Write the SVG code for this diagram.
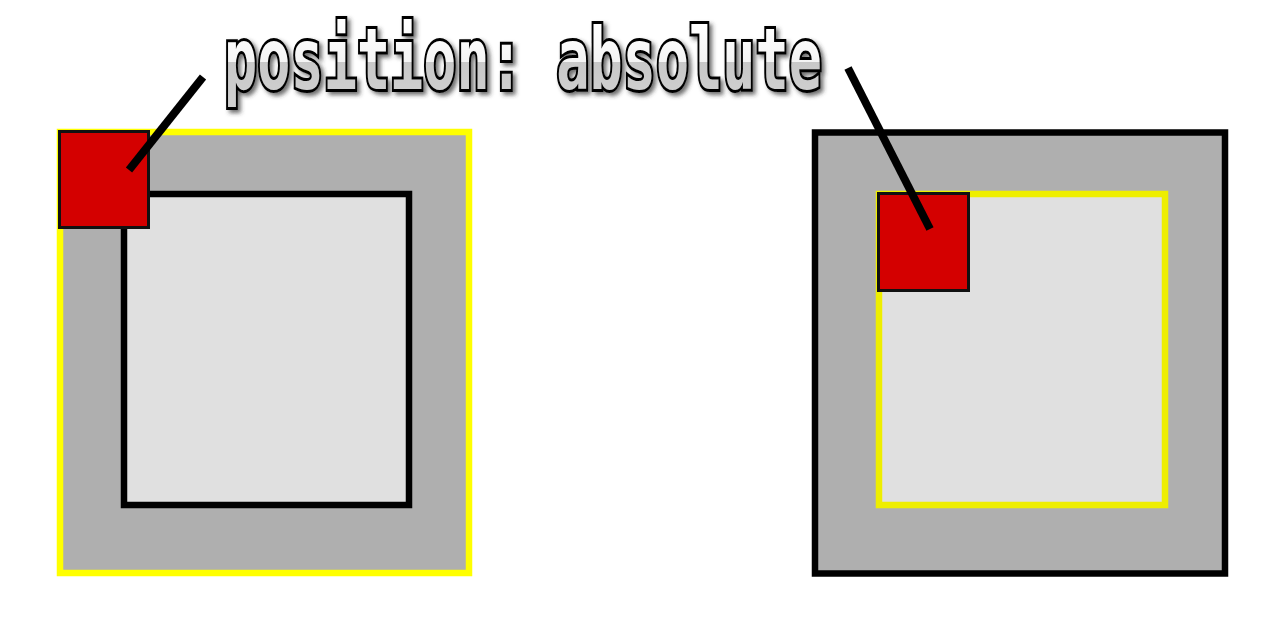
<svg xmlns="http://www.w3.org/2000/svg" width="1280" height="640" viewBox="0 0 1280 640">
  <defs>
    <linearGradient id="txtGrad" gradientUnits="userSpaceOnUse" x1="0" y1="24" x2="0" y2="100">
      <stop offset="0" stop-color="#ffffff"/>
      <stop offset="0.5" stop-color="#f4f4f4"/>
      <stop offset="0.5" stop-color="#c8c8c8"/>
      <stop offset="1" stop-color="#d0d0d0"/>
    </linearGradient>
    <filter id="shadow" x="-5%" y="-30%" width="110%" height="160%">
      <feDropShadow dx="3" dy="3" stdDeviation="2" flood-color="#333" flood-opacity="0.7"/>
    </filter>
  </defs>
  <style>
    .outer { fill: #afafaf; stroke-width: 6.5; }
    .inner { fill: #e0e0e0; stroke-width: 6.5; }
    .red { fill: #d40000; stroke: #111; stroke-width: 3; }
    .pointer { stroke: #000; stroke-width: 8; fill: none; }
    .title { font-family: "DejaVu Sans Mono", "Liberation Mono", monospace; font-weight: bold; font-size: 86px; }
  </style>
  <rect width="1280" height="640" fill="#ffffff"/>

  <g id="left-box">
    <rect class="outer" x="60" y="132" width="409" height="441" stroke="#ffff00"/>
    <rect class="inner" x="124" y="194" width="285" height="311" stroke="#000"/>
    <rect class="red" x="59.5" y="131.5" width="89" height="96"/>
  </g>

  <g id="right-box">
    <rect class="outer" x="815" y="132.5" width="410" height="441" stroke="#000"/>
    <rect class="inner" x="879" y="194" width="286" height="311" stroke="#eeee00"/>
    <rect class="red" x="878.5" y="193.5" width="90" height="97"/>
  </g>

  <g id="connectors">
    <line class="pointer" x1="203" y1="77" x2="129" y2="170"/>
    <line class="pointer" x1="848" y1="68" x2="930" y2="229"/>
  </g>

  <g id="label" filter="url(#shadow)">
    <text class="title" x="224" y="89" textLength="598" lengthAdjust="spacingAndGlyphs" fill="url(#txtGrad)" stroke="#000" stroke-width="6" paint-order="stroke" stroke-linejoin="miter">position: absolute</text>
  </g>
</svg>
